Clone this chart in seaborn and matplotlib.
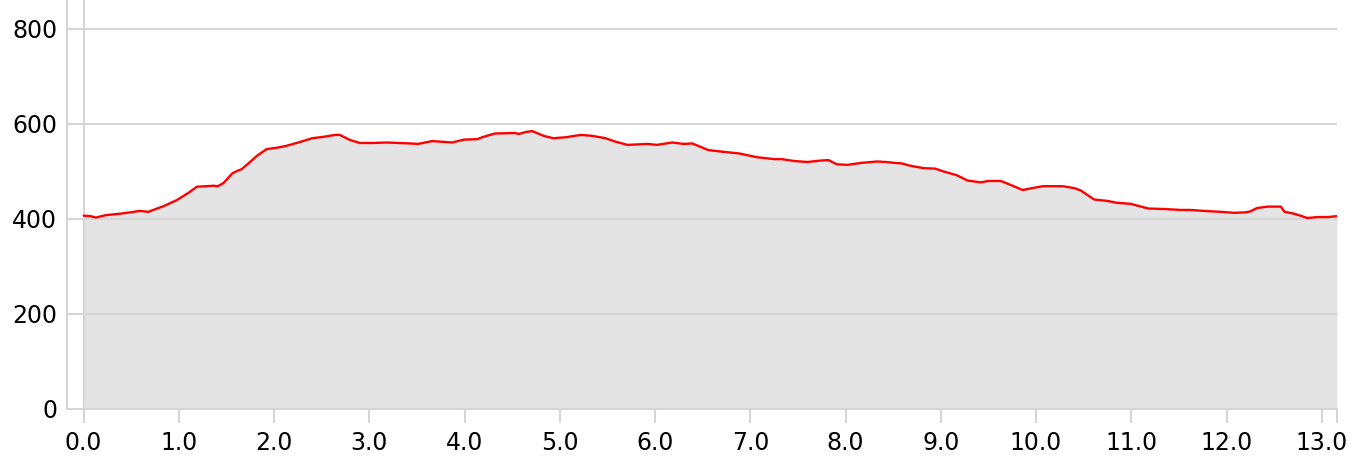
import numpy as np
import pandas as pd
import seaborn as sns
import matplotlib.pyplot as plt

# distance (km) and elevation (m)
distance_km = [0.00, 0.07, 0.13, 0.23, 0.38, 0.49, 0.59, 0.68, 0.73, 0.84,
               0.98, 1.10, 1.19, 1.29, 1.36, 1.41, 1.47, 1.56, 1.61, 1.66,
               1.73, 1.82, 1.92, 2.03, 2.13, 2.27, 2.40, 2.52, 2.64, 2.69,
               2.80, 2.90, 3.04, 3.18, 3.43, 3.51, 3.66, 3.87, 3.99, 4.13,
               4.20, 4.32, 4.53, 4.57, 4.64, 4.71, 4.83, 4.93, 5.06, 5.22,
               5.34, 5.48, 5.58, 5.71, 5.92, 6.02, 6.18, 6.30, 6.39, 6.56,
               6.69, 6.88, 7.00, 7.07, 7.25, 7.33, 7.46, 7.60, 7.74, 7.82,
               7.91, 8.02, 8.16, 8.33, 8.42, 8.52, 8.59, 8.68, 8.82, 8.94,
               9.03, 9.17, 9.28, 9.42, 9.50, 9.63, 9.73, 9.86, 9.96, 10.07,
               10.28, 10.40, 10.47, 10.61, 10.75, 10.85, 10.99, 11.18, 11.34, 11.52,
               11.62, 11.76, 11.94, 12.08, 12.20, 12.25, 12.32, 12.43, 12.57, 12.61,
               12.69, 12.76, 12.85, 12.95, 13.06, 13.16]
elevation_m = [406, 405, 402, 407, 410, 413, 416, 414, 418, 426,
               439, 454, 467, 468, 469, 468, 475, 495, 500, 504,
               516, 532, 546, 549, 553, 561, 569, 572, 576, 576,
               565, 559, 559, 560, 558, 557, 563, 560, 566, 567,
               572, 579, 580, 578, 582, 584, 574, 569, 571, 576,
               574, 569, 562, 555, 557, 555, 560, 557, 558, 544,
               541, 537, 532, 529, 525, 525, 521, 519, 522, 523,
               514, 513, 517, 520, 519, 517, 516, 511, 506, 505,
               499, 491, 480, 476, 479, 479, 471, 460, 464, 468,
               468, 464, 459, 440, 437, 433, 431, 421, 420, 418,
               418, 416, 414, 412, 413, 415, 422, 425, 425, 414,
               411, 407, 401, 403, 403, 405]

x_ticks = [0, 1, 2, 3, 4, 5, 6, 7, 8, 9, 10, 11, 12, 13]
y_ticks = [0, 200, 400, 600, 800]

df = pd.DataFrame({"km": distance_km, "ele": elevation_m})

sns.set_style("white")
plt.rcParams['font.family'] = ['DejaVu Sans']

grid_col = "#d6d6d6"
fig = plt.figure(figsize=(13.65, 4.72), dpi=100)
ax = fig.add_axes([67 / 1365, 1 - 408.5 / 472, (1337 - 67) / 1365, 408.5 / 472])

x_min, x_max = -0.175, df["km"].max()
ax.set_xlim(x_min, x_max)
ax.set_ylim(0, 860)

ax.fill_between(df["km"], df["ele"], 0, color="#e4e4e4", lw=0, zorder=1)
for yv in y_ticks[1:]:
    ax.axhline(yv, color=grid_col, lw=1.5, zorder=2)
ax.axvline(0, color=grid_col, lw=1.5, zorder=2)
sns.lineplot(data=df, x="km", y="ele", color="red", lw=1.7, ax=ax, zorder=3)

ax.set_xticks(x_ticks)
ax.set_xticklabels([f"{v:.1f}" for v in x_ticks])
ax.set_xticks([x_max], minor=True)
ax.set_yticks(y_ticks)
ax.set_xlabel("")
ax.set_ylabel("")

for side in ["top", "right"]:
    ax.spines[side].set_visible(False)
for side in ["left", "bottom"]:
    ax.spines[side].set_color(grid_col)
    ax.spines[side].set_linewidth(1.5)

ax.tick_params(axis="x", which="both", length=10, width=1.5, color=grid_col,
               labelsize=17, labelcolor="black", pad=6, bottom=True)
ax.tick_params(axis="y", length=0, labelsize=17, labelcolor="black", pad=7)

fig.savefig("out.png", dpi=100)
